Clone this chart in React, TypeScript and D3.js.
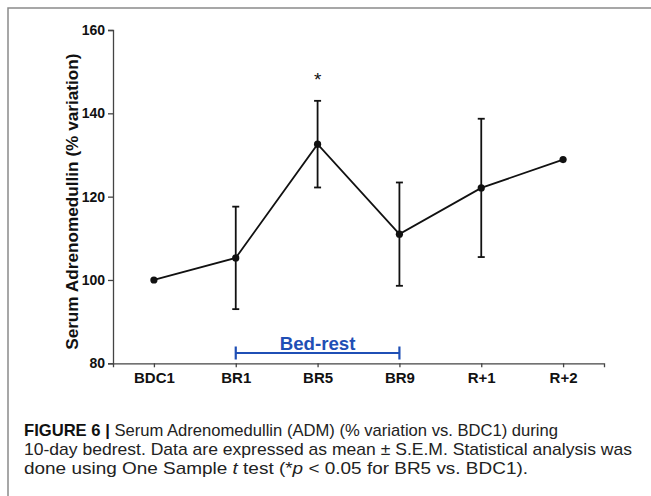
import React, { useEffect, useRef } from "react";
import { select, scalePoint, scaleLinear, axisBottom, axisLeft, line } from "d3";

const categories = ["BDC1", "BR1", "BR5", "BR9", "R+1", "R+2"];
const meanValues = [100, 105.3, 132.6, 111.0, 122.1, 128.9];
const semValues = [0, 12.3, 10.4, 12.4, 16.6, 0];
const yTicks = [80, 100, 120, 140, 160];
const significant = ["BR5"];
const bedRestSpan = ["BR1", "BR9"];
const bedRestLabel = "Bed-rest";
const yTitle = "Serum Adrenomedullin (% variation)";

const captionBold = "FIGURE 6 |";
const captionLines = [
  " Serum Adrenomedullin (ADM) (% variation vs. BDC1) during",
  "10-day bedrest. Data are expressed as mean ± S.E.M. Statistical analysis was",
  "done using One Sample ",
];

const W = 651;
const H = 496;

export default function App() {
  const svgRef = useRef<SVGSVGElement>(null);

  useEffect(() => {
    if (!svgRef.current) return;
    const svg = select(svgRef.current);
    svg.selectAll("*").remove();

    const x = scalePoint<string>().domain(categories).range([113, 604]).padding(0.5);
    const y = scaleLinear().domain([80, 160]).range([363.3, 30]);
    const font = "'Liberation Sans', Arial, sans-serif";
    const data = categories.map((c, i) => ({ c, v: meanValues[i], e: semValues[i] }));

    // frame
    svg.append("path")
      .attr("d", `M8,${H} V8 H${W}`)
      .attr("fill", "none")
      .attr("stroke", "#8a8a8a")
      .attr("stroke-width", 1.5);

    // axes
    const xAxis = svg.append("g")
      .attr("transform", `translate(0, ${y(80)})`)
      .call(axisBottom(x).tickSizeOuter(0).tickSize(4).tickPadding(5));
    const yAxis = svg.append("g")
      .attr("transform", `translate(113, 0)`)
      .call(axisLeft(y).tickValues(yTicks).tickSizeOuter(0).tickSize(5).tickPadding(3));
    [xAxis, yAxis].forEach((g) => {
      g.select(".domain").attr("stroke", "#444").attr("stroke-width", 1.3);
      g.selectAll(".tick line").attr("stroke", "#444").attr("stroke-width", 1.3);
      g.selectAll(".tick text")
        .attr("fill", "#111")
        .style("font-family", font)
        .style("font-weight", "bold")
        .style("font-size", "14px");
    });
    xAxis.selectAll(".tick text").style("font-size", "15px");

    // y title
    svg.append("text")
      .attr("transform", `translate(78, ${y(120) + 5}) rotate(-90)`)
      .attr("text-anchor", "middle")
      .style("font-family", font)
      .style("font-weight", "bold")
      .style("font-size", "17.2px")
      .attr("fill", "#111")
      .text(yTitle);

    // error bars
    const eb = svg.append("g").attr("stroke", "#111").attr("stroke-width", 1.8);
    data.filter((d) => d.e > 0).forEach((d) => {
      const cx = x(d.c)!;
      eb.append("line").attr("x1", cx).attr("x2", cx).attr("y1", y(d.v + d.e)).attr("y2", y(d.v - d.e));
      [d.v + d.e, d.v - d.e].forEach((v) => {
        eb.append("line").attr("x1", cx - 3.5).attr("x2", cx + 3.5).attr("y1", y(v)).attr("y2", y(v));
      });
    });

    // line + points
    const path = line<{ c: string; v: number }>()
      .x((d) => x(d.c)!)
      .y((d) => y(d.v));
    svg.append("path")
      .datum(data)
      .attr("d", path)
      .attr("fill", "none")
      .attr("stroke", "#111")
      .attr("stroke-width", 1.8);
    svg.selectAll(".pt")
      .data(data)
      .join("circle")
      .attr("class", "pt")
      .attr("cx", (d) => x(d.c)!)
      .attr("cy", (d) => y(d.v))
      .attr("r", 3.6)
      .attr("fill", "#111");

    // significance
    significant.forEach((c) => {
      const i = categories.indexOf(c);
      svg.append("text")
        .attr("x", x(c)!)
        .attr("y", y(meanValues[i] + semValues[i]) - 15)
        .attr("text-anchor", "middle")
        .style("font-family", font)
        .style("font-size", "19px")
        .attr("fill", "#111")
        .text("*");
    });

    // bed-rest bracket
    const blue = "#1f4fb5";
    const bx0 = x(bedRestSpan[0])!;
    const bx1 = x(bedRestSpan[1])!;
    const by = 353;
    const br = svg.append("g").attr("stroke", blue).attr("stroke-width", 2.2);
    br.append("line").attr("x1", bx0).attr("x2", bx1).attr("y1", by).attr("y2", by);
    [bx0, bx1].forEach((bx) => {
      br.append("line").attr("x1", bx).attr("x2", bx).attr("y1", by - 6.5).attr("y2", by + 6.5);
    });
    svg.append("text")
      .attr("x", (bx0 + bx1) / 2)
      .attr("y", 349.5)
      .attr("text-anchor", "middle")
      .style("font-family", font)
      .style("font-weight", "bold")
      .style("font-size", "18.7px")
      .attr("fill", blue)
      .text(bedRestLabel);

    // caption
    const capFont = "'Liberation Sans Narrow', 'Liberation Sans', Arial, sans-serif";
    const widths = [534, 608, 504];
    const baselines = [436, 455, 474];
    captionLines.forEach((ln, i) => {
      const t = svg.append("text")
        .attr("x", 24)
        .attr("y", baselines[i])
        .attr("textLength", widths[i])
        .attr("lengthAdjust", "spacingAndGlyphs")
        .style("font-family", capFont)
        .style("font-size", "17px")
        .attr("fill", "#222");
      if (i === 0) {
        t.append("tspan").style("font-weight", "bold").attr("fill", "#111").text(captionBold);
        t.append("tspan").text(ln);
      } else if (i === 2) {
        t.append("tspan").text(ln);
        t.append("tspan").style("font-style", "italic").text("t");
        t.append("tspan").text(" test (*");
        t.append("tspan").style("font-style", "italic").text("p");
        t.append("tspan").text(" < 0.05 for BR5 vs. BDC1).");
      } else {
        t.text(ln);
      }
    });
  }, []);

  return (
    <svg
      ref={svgRef}
      width={W}
      height={H}
      style={{ position: "absolute", left: 0, top: 0, background: "#fff" }}
    />
  );
}
